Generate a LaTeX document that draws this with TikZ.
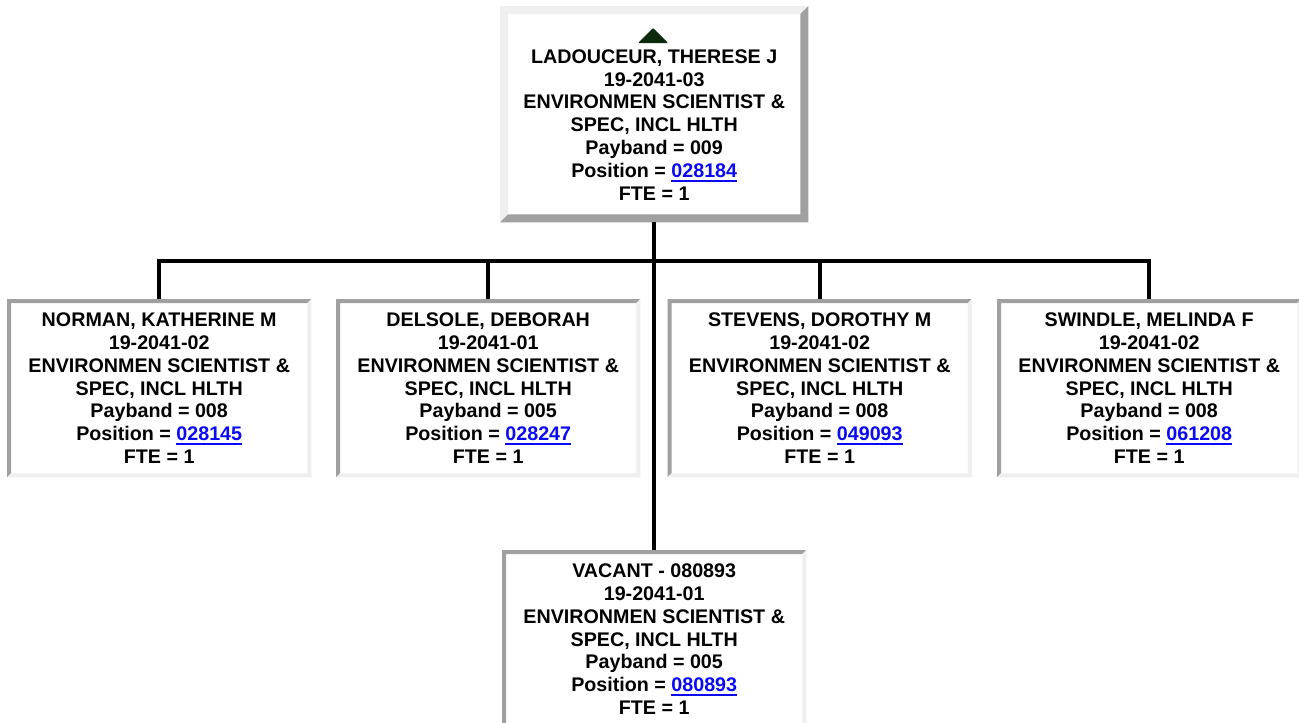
\documentclass[tikz,border=0pt]{standalone}
\usepackage{fontspec}
\setmainfont{Liberation Sans}
\definecolor{lite}{HTML}{EFEFEF}
\definecolor{dark}{HTML}{A0A0A0}
\definecolor{linkblue}{HTML}{0A0AF5}
\definecolor{tri}{HTML}{0B2A0B}
\newcommand\cardfont{\bfseries\fontsize{19.7}{22.85}\selectfont}
\newcommand\lnk[1]{\textcolor{linkblue}{\setbox0\hbox{#1}\rlap{\rule[-4.3pt]{\wd0}{2pt}}\box0}}
\newcommand\bevel[4]{%
  \fill[#3] (#1.north west) -- (#1.north east) -- ([shift={(-#2,#2)}]#1.north east)
     -- ([shift={(#2,#2)}]#1.north west) -- ([shift={(#2,-#2)}]#1.south west) -- (#1.south west) -- cycle;
  \fill[#4] (#1.south west) -- (#1.south east) -- (#1.north east) -- ([shift={(-#2,#2)}]#1.north east)
     -- ([shift={(-#2,-#2)}]#1.south east) -- ([shift={(#2,-#2)}]#1.south west) -- cycle;}
\tikzset{
  card/.style={rectangle, inner sep=0pt, minimum width=304, minimum height=178,
    align=center, font=\cardfont, anchor=north west, fill=white, text=black},
  wire/.style={draw=black, line width=3.6pt}
}
\begin{document}
\begin{tikzpicture}[x=1pt,y=-1pt]
\clip (0,0) rectangle (1299,723);
\fill[white] (0,0) rectangle (1299,723);
% boxes
\node[card, minimum width=308, minimum height=216] (top) at (500,6)
  {\rule{0pt}{35pt}LADOUCEUR, THERESE J\\19-2041-03\\ENVIRONMEN SCIENTIST \&\\SPEC, INCL HLTH\\Payband = 009\\Position = \lnk{028184}\\FTE = 1};
\node[card] (n1) at (7,299)
  {NORMAN, KATHERINE M\\19-2041-02\\ENVIRONMEN SCIENTIST \&\\SPEC, INCL HLTH\\Payband = 008\\Position = \lnk{028145}\\FTE = 1};
\node[card] (n2) at (336,299)
  {DELSOLE, DEBORAH\\19-2041-01\\ENVIRONMEN SCIENTIST \&\\SPEC, INCL HLTH\\Payband = 005\\Position = \lnk{028247}\\FTE = 1};
\node[card] (n3) at (667.5,299)
  {STEVENS, DOROTHY M\\19-2041-02\\ENVIRONMEN SCIENTIST \&\\SPEC, INCL HLTH\\Payband = 008\\Position = \lnk{049093}\\FTE = 1};
\node[card] (n4) at (997,299)
  {SWINDLE, MELINDA F\\19-2041-02\\ENVIRONMEN SCIENTIST \&\\SPEC, INCL HLTH\\Payband = 008\\Position = \lnk{061208}\\FTE = 1};
\node[card] (v1) at (502,550)
  {VACANT - 080893\\19-2041-01\\ENVIRONMEN SCIENTIST \&\\SPEC, INCL HLTH\\Payband = 005\\Position = \lnk{080893}\\FTE = 1};
% borders
\bevel{top}{8}{lite}{dark}
\bevel{n1}{4}{dark}{lite}
\bevel{n2}{4}{dark}{lite}
\bevel{n3}{4}{dark}{lite}
\bevel{n4}{4}{dark}{lite}
\bevel{v1}{4}{dark}{lite}
% expand marker
\fill[tri, rounded corners=1pt] ([shift={(-16,37)}]top.north) -- ([shift={(-1,22)}]top.north)
   -- ([shift={(14,37)}]top.north) -- cycle;
% connectors
\coordinate (bar) at (654,261);
\draw[wire] (top.south) -- (v1.north);
\draw[wire] (n1.north) -- (n1.north |- bar) -- (n4.north |- bar) -- (n4.north);
\draw[wire] (n2.north) -- (n2.north |- bar);
\draw[wire] (n3.north) -- (n3.north |- bar);
\end{tikzpicture}
\end{document}
